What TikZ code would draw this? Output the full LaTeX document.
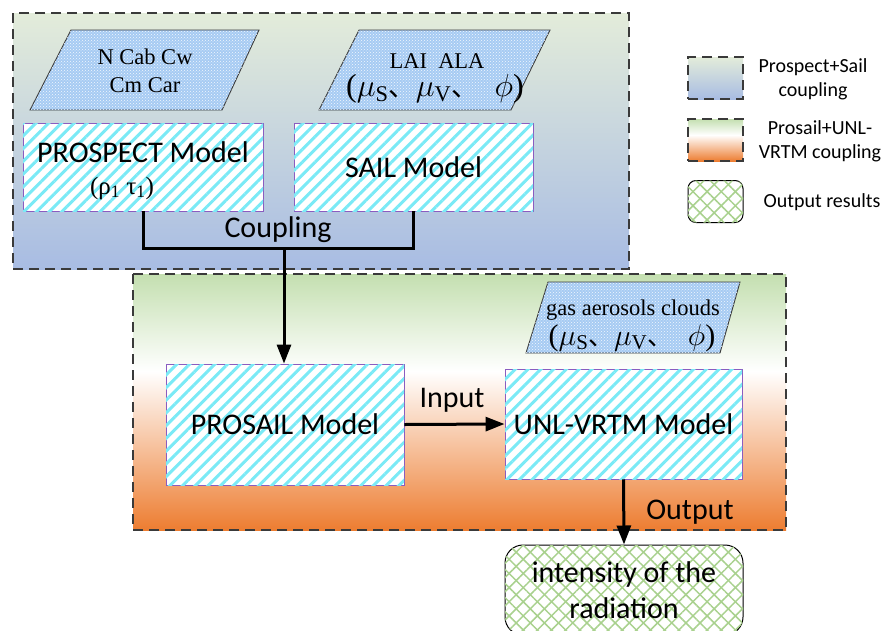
\RequirePackage{fix-cm}
\documentclass[tikz,border=0pt]{standalone}
\usepackage{fontspec}
\setmainfont{Carlito}
\newfontfamily\tms{Liberation Serif}
\newfontfamily\cjk{Noto Sans CJK SC}
\usetikzlibrary{arrows.meta,patterns,patterns.meta}
\definecolor{tgreen}{HTML}{E3ECDA}
\definecolor{tblue}{HTML}{A8BCE3}
\definecolor{bgreen}{HTML}{C4DFB0}
\definecolor{borange}{HTML}{ED7D31}
\definecolor{stripe}{HTML}{7AEAF6}
\definecolor{purp}{HTML}{8A5CC0}
\definecolor{pblue}{HTML}{A6CBF3}
\definecolor{xgreen}{HTML}{A9D18E}
\definecolor{dgray}{HTML}{3A3A3A}
\pgfdeclareverticalshading{gwo}{100bp}{color(0bp)=(borange); color(25bp)=(borange); color(56bp)=(white); color(75bp)=(bgreen); color(100bp)=(bgreen)}
\newcommand{\myangs}[1]{{\tms\fontsize{#1}{#1}\selectfont ($\mu$\textsubscript{S}{\cjk\fontsize{0.85\dimexpr#1pt}{#1}\selectfont 、}$\mu$\textsubscript{V}{\cjk\fontsize{0.85\dimexpr#1pt}{#1}\selectfont 、}\ \ $\phi$)}}
\begin{document}
\begin{tikzpicture}[x=1pt,y=-1pt,
  grp/.style={draw=dgray, line width=1.2pt, dash pattern=on 10pt off 6pt},
  param/.style={draw=dgray, line width=0.9pt, fill=pblue, postaction={pattern=crosshatch dots, pattern color=white!85!pblue}},
  model/.style={draw=purp, line width=0.9pt, fill=white, inner sep=0pt,
    postaction={pattern={Lines[angle=45,distance=9pt,line width=3pt]}, pattern color=stripe},
    font=\fontsize{30}{36}\selectfont},
  outbox/.style={draw=black, line width=1pt, fill=white, rounded corners=18pt, inner sep=0pt, align=center,
    postaction={pattern={Lines[angle=45,distance=10pt,line width=1.5pt]}, pattern color=xgreen},
    postaction={pattern={Lines[angle=-45,distance=10pt,line width=1.5pt]}, pattern color=xgreen},
    font=\fontsize{30}{36}\selectfont},
  sanslbl/.style={font=\fontsize{30}{36}\selectfont, inner sep=0pt},
  serif/.style={font=\tms\fontsize{22.5}{28}\selectfont, align=center, inner sep=0pt},
  legtxt/.style={font=\fontsize{20}{24}\selectfont, align=center, inner sep=0pt},
  conn/.style={draw=black, line width=3pt},
  arr/.style={conn, -{Triangle[length=19pt,width=14pt]}},
  legbox/.style={minimum width=55pt, minimum height=42pt, inner sep=0pt}
]
\path[use as bounding box] (0,0) rectangle (889,630);
\clip (0,0) rectangle (889,630);
\fill[white] (0,0) rectangle (889,630);

% group backgrounds
\draw[grp, top color=tgreen, bottom color=tblue] (13,13) rectangle (629,269);
\draw[grp, shade, shading=gwo] (133,274) rectangle (786,530);

% parameter parallelograms
\draw[param] (71,30) -- (259,30) -- (222,110) -- (30,110) -- cycle;
\node[serif] (p1) at (145,71) {N Cab Cw\\Cm Car};
\draw[param] (359,30) -- (550,30) -- (511,110) -- (319,110) -- cycle;
\node[serif] (lai) at (437,61) {LAI\ \ ALA};
\node[inner sep=0pt] (ang1) at (435,89) {\myangs{32}};
\draw[param] (548,282) -- (740,282) -- (720,353) -- (526,353) -- cycle;
\node[serif] (gas) at (633,310) {gas aerosols clouds};
\node[inner sep=0pt] (ang2) at (632,338) {\myangs{30}};

% models
\node[model, minimum width=240pt, minimum height=88pt] (prospect) at (143,167) {};
\node[sanslbl] (pm) at (143,152) {PROSPECT Model};
\node[inner sep=0pt, font=\tms\fontsize{25}{28}\selectfont] (rt) at (122,188) {(ρ\textsubscript{1} τ\textsubscript{1})};
\node[model, minimum width=239pt, minimum height=88pt] (sail) at (413.5,167) {SAIL Model};
\node[model, minimum width=238pt, minimum height=121pt] (prosail) at (285,424.5) {PROSAIL Model};
\node[model, minimum width=237pt, minimum height=110pt] (unl) at (623.5,424) {UNL-VRTM Model};
\node[outbox, minimum width=238pt, minimum height=90pt] (out) at (624,590) {intensity of the\\radiation};

% labels
\node[sanslbl] (cpl) at (278,230) {Coupling};
\node[sanslbl] (inp) at (452,400) {Input};
\node[sanslbl] (outl) at (690,512) {Output};

% connectors
\coordinate (cj) at (284,248);
\draw[conn] (prospect.south) |- (cj) -| (sail.south);
\draw[arr] (cj) -- (cj |- prosail.north);
\draw[arr] (prosail.east) -- (unl.west);
\draw[arr] (unl.south) -- (out.north);

% legend
\node[legbox, grp, top color=tgreen, bottom color=tblue] (l1) at (715.5,78) {};
\node[legtxt] (l1t) at (813,79) {Prospect+Sail\\coupling};
\node[legbox, grp, shade, shading=gwo] (l2) at (715.5,140) {};
\node[legtxt] (l2t) at (820,141) {Prosail+UNL-\\VRTM coupling};
\node[legbox, draw=black, line width=1pt, fill=white, rounded corners=8pt,
  postaction={pattern={Lines[angle=45,distance=10pt,line width=1.5pt]}, pattern color=xgreen},
  postaction={pattern={Lines[angle=-45,distance=10pt,line width=1.5pt]}, pattern color=xgreen}] (l3) at (715.5,201.5) {};
\node[legtxt] (l3t) at (822,202) {Output results};
\end{tikzpicture}
\end{document}
